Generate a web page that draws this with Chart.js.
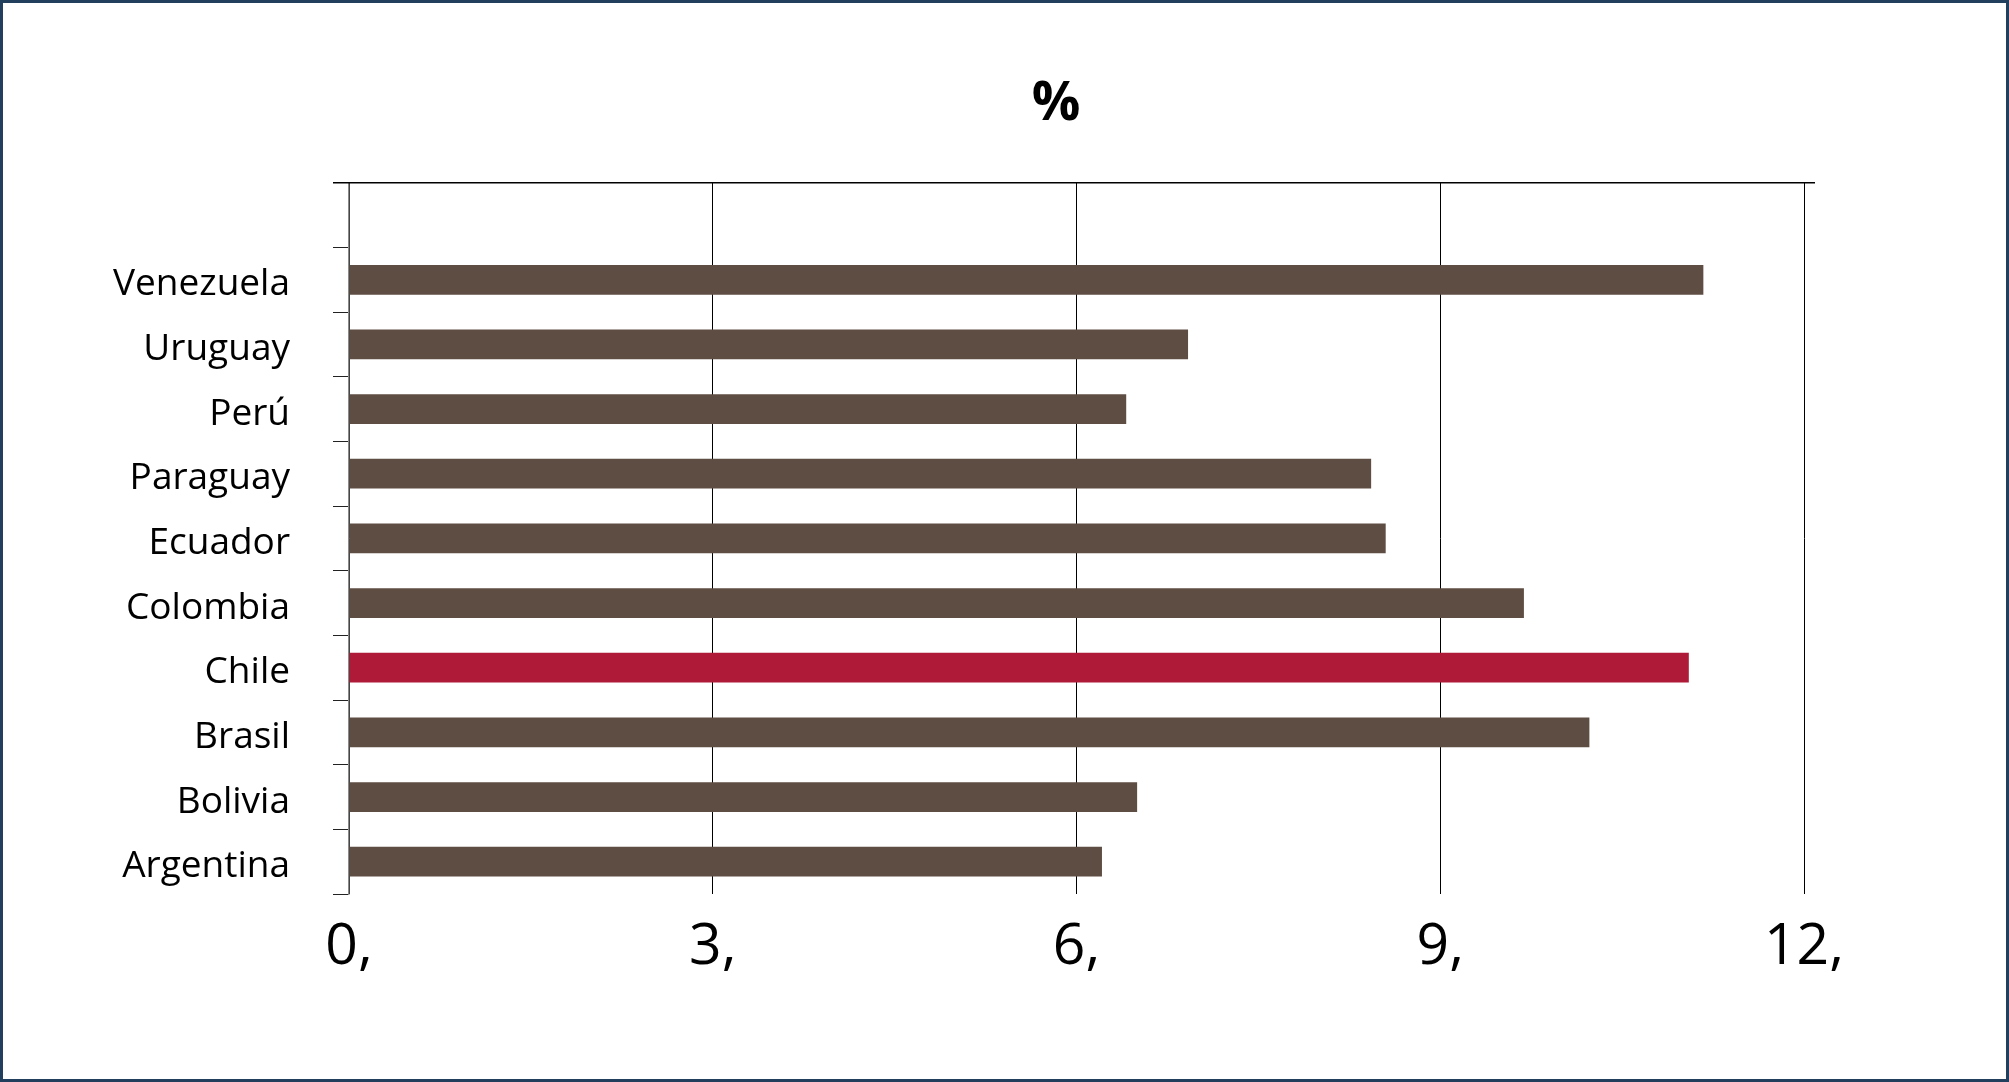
<!DOCTYPE html>
<html>
<head>
<meta charset="utf-8">
<style>
    html, body { margin: 0; padding: 0; background: #fff; }
    #wrap { position: relative; width: 2009px; height: 1082px; }
    #myChart { position: absolute; left: 0; top: 0; }
    #frame { position: absolute; left: 0; top: 0; width: 2009px; height: 1082px;
             box-sizing: border-box; border: 3px solid #22405e; pointer-events: none; }
</style>
</head>
<body>
<div id="wrap">
    <canvas id="myChart" width="2009" height="1082"></canvas>
    <div id="frame"></div>
</div>

<script src="https://cdn.jsdelivr.net/npm/chart.js"></script>
<script>
    // categories, top to bottom (first slot is left empty, as in the original)
    const countries = ['', 'Venezuela', 'Uruguay', 'Perú', 'Paraguay', 'Ecuador',
        'Colombia', 'Chile', 'Brasil', 'Bolivia', 'Argentina'];
    const values = [null, 11.17, 6.92, 6.41, 8.43, 8.55, 9.69, 11.05, 10.23, 6.50, 6.21];
    const xTicks = [0, 3, 6, 9, 12];
    const highlight = 'Chile';

    const brown = '#5e4d42';
    const red = '#ae1a37';

    const frameBits = {
        id: 'frameBits',
        // the title in the original sits a bit right of the page centre
        afterLayout(chart) {
            chart.titleBlock.left = chart.chartArea.left - 41;
        },
        // extend the top edge line a bit past the plot, like the original
        afterDraw(chart) {
            const a = chart.chartArea;
            const c = chart.ctx;
            c.save();
            c.strokeStyle = '#000';
            c.lineWidth = 1.5;
            c.beginPath();
            c.moveTo(a.left - 16, a.top);
            c.lineTo(a.right + 11, a.top);
            c.stroke();
            c.restore();
        }
    };

    const ctx = document.getElementById('myChart');

    let chart = new Chart(ctx, {
        type: 'bar',
        data: {
            labels: countries,
            datasets: [{
                label: '%',
                data: values,
                backgroundColor: countries.map(c => c === highlight ? red : brown),
                borderWidth: 0,
                categoryPercentage: 1,
                barPercentage: 0.46
            }]
        },
        options: {
            indexAxis: 'y',
            responsive: false,
            animation: false,
            layout: {
                padding: { left: 80, right: 205, top: 0, bottom: 0 }
            },
            plugins: {
                legend: { display: false },
                tooltip: { enabled: false },
                title: {
                    display: true,
                    text: '%',
                    color: '#000',
                    font: { family: 'Open Sans', size: 54, weight: 'bold' },
                    padding: { top: 72, bottom: 46 }
                }
            },
            scales: {
                x: {
                    min: 0,
                    max: 12,
                    afterBuildTicks: scale => {
                        scale.ticks = xTicks.map(v => ({ value: v }));
                    },
                    afterFit: scale => { scale.height = 188; },
                    border: { display: false },
                    grid: {
                        color: '#000',
                        lineWidth: 1,
                        drawTicks: false
                    },
                    ticks: {
                        color: '#000',
                        padding: 20,
                        font: { family: 'Open Sans', size: 57 },
                        callback: v => v + ','
                    }
                },
                y: {
                    afterFit: scale => { scale.width = 269; },
                    border: { display: true, color: '#8a8a8a', width: 1.5 },
                    grid: {
                        offset: true,
                        drawOnChartArea: false,
                        drawTicks: true,
                        tickLength: 16,
                        color: '#222',
                        lineWidth: 1
                    },
                    ticks: {
                        color: '#000',
                        padding: 43,
                        labelOffset: 5,
                        font: { family: 'Open Sans', size: 37 }
                    }
                }
            }
        },
        plugins: [frameBits]
    });
</script>
</body>
</html>
